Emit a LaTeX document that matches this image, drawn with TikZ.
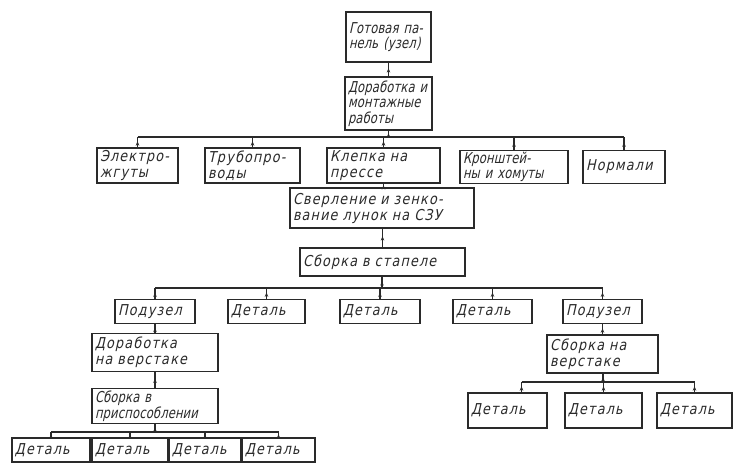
\documentclass[tikz,border=0pt]{standalone}
\usepackage{fontspec}
\newfontfamily\hand{DejaVu Sans}[FakeStretch=0.85,FakeSlant=0.22,LetterSpace=8]
\newfontfamily\handn{DejaVu Sans}[FakeStretch=0.77,FakeSlant=0.22,LetterSpace=1]
\usetikzlibrary{arrows.meta,decorations.markings,calc}
\definecolor{ink}{HTML}{2A2A2A}
\tikzset{
  box/.style={draw=ink, line width=1.1pt, rectangle, inner xsep=3pt, inner ysep=1pt,
    align=left, text=ink, font=\hand\fontsize{15}{16}\selectfont},
  narrow/.style={font=\handn\fontsize{15}{15.5}\selectfont},
  wire/.style={draw=ink, line width=1.1pt},
  upar/.style={wire, postaction={decorate}, decoration={markings,
    mark=at position 0.6 with {\arrow{Stealth[length=4.5pt,width=3.5pt]}}}},
}
\newcommand{\bx}[6]{\node[box, #5, minimum width=#3pt, minimum height=#4pt, text width=#3pt-6pt] (#1) at (#2) {#6};}
\begin{document}
\begin{tikzpicture}[x=1pt,y=-1pt]
\useasboundingbox (0,0) rectangle (734,475);
% top
\bx{A}{388.5,37}{85}{50}{narrow}{\mbox{Готовая па-}\\\mbox{нель (узел)}}
\bx{B}{388.5,103.5}{87}{53}{narrow}{\mbox{Доработка и}\\монтажные\\работы}
% row 2
\bx{C1}{137.5,165.5}{81}{35}{}{Электро-\\жгуты}
\bx{C2}{252.5,165.5}{95}{35}{}{Трубопро-\\воды}
\bx{C3}{383.5,165.5}{113}{35}{}{\mbox{Клепка на}\\прессе}
\bx{C4}{514,167}{108}{33}{narrow}{Кронштей-\\\mbox{ны и хомуты}}
\bx{C5}{624,167}{82}{33}{}{Нормали}
% middle
\bx{D}{382,208}{184}{40}{}{\mbox{Сверление и зенко-}\\\mbox{вание лунок на СЗУ}}
\bx{E}{382.5,262}{165}{28}{}{\mbox{Сборка в стапеле}}
% row 4
\bx{F1}{155,311.5}{80}{24}{}{Подузел}
\bx{F2}{266.5,311.5}{77}{24}{}{Деталь}
\bx{F3}{380,311.5}{80}{24}{}{Деталь}
\bx{F4}{492.5,311.5}{79}{24}{}{Деталь}
\bx{F5}{602.5,311.5}{79}{24}{}{Подузел}
% left branch
\bx{G}{155,352.5}{126}{38}{}{Доработка\\\mbox{на верстаке}}
\bx{H}{155,406}{126}{35}{narrow}{\mbox{Сборка в}\\приспособлении}
\bx{K1}{51,450}{78}{24}{}{Деталь}
\bx{K2}{130,450}{76}{24}{}{Деталь}
\bx{K3}{205,450}{72}{24}{}{Деталь}
\bx{K4}{278.5,450}{73}{24}{}{Деталь}
% right branch
\bx{I}{602.5,354}{111}{38}{}{\mbox{Сборка на}\\верстаке}
\bx{J1}{507.5,410.5}{79}{35}{}{Деталь}
\bx{J2}{603.5,410.5}{77}{35}{}{Деталь}
\bx{J3}{694.5,410.5}{75}{35}{}{Деталь}
% buses
\coordinate (b1) at (388.5,137);
\coordinate (b2) at (382,288);
\coordinate (b3) at (155,432);
\coordinate (b4) at (603,382);
% connectors
\draw[upar] (B.north) -- (A.south);
\draw[upar] (b1) -- (B.south);
\draw[wire] (C1.north |- b1) -- (C5.north |- b1);
\foreach \n in {C1,C2,C3,C4,C5} \draw[upar] (\n.north) -- (\n.north |- b1);
\draw[upar] (C3.south |- D.north) -- (C3.south);
\draw[upar] (E.north) -- (E.north |- D.south);
\draw[upar] (b2) -- (b2 |- E.south);
\draw[wire] (F1.north |- b2) -- (F5.north |- b2);
\foreach \n in {F1,F2,F3,F4,F5} \draw[upar] (\n.north) -- (\n.north |- b2);
\draw[upar] (G.north) -- (F1.south);
\draw[upar] (H.north) -- (G.south);
\draw[upar] (b3) -- (H.south);
\draw[wire] (K1.north |- b3) -- (K4.north |- b3);
\foreach \n in {K1,K2,K3,K4} \draw[upar] (\n.north) -- (\n.north |- b3);
\draw[upar] (I.north) -- (I.north |- F5.south);
\draw[upar] (b4) -- (b4 |- I.south);
\draw[wire] ([xshift=14pt]J1.north |- b4) -- (J3.north |- b4);
\draw[upar] ([xshift=14pt]J1.north) -- ([xshift=14pt]J1.north |- b4);
\draw[upar] (J2.north) -- (J2.north |- b4);
\draw[upar] (J3.north) -- (J3.north |- b4);
\end{tikzpicture}
\end{document}
